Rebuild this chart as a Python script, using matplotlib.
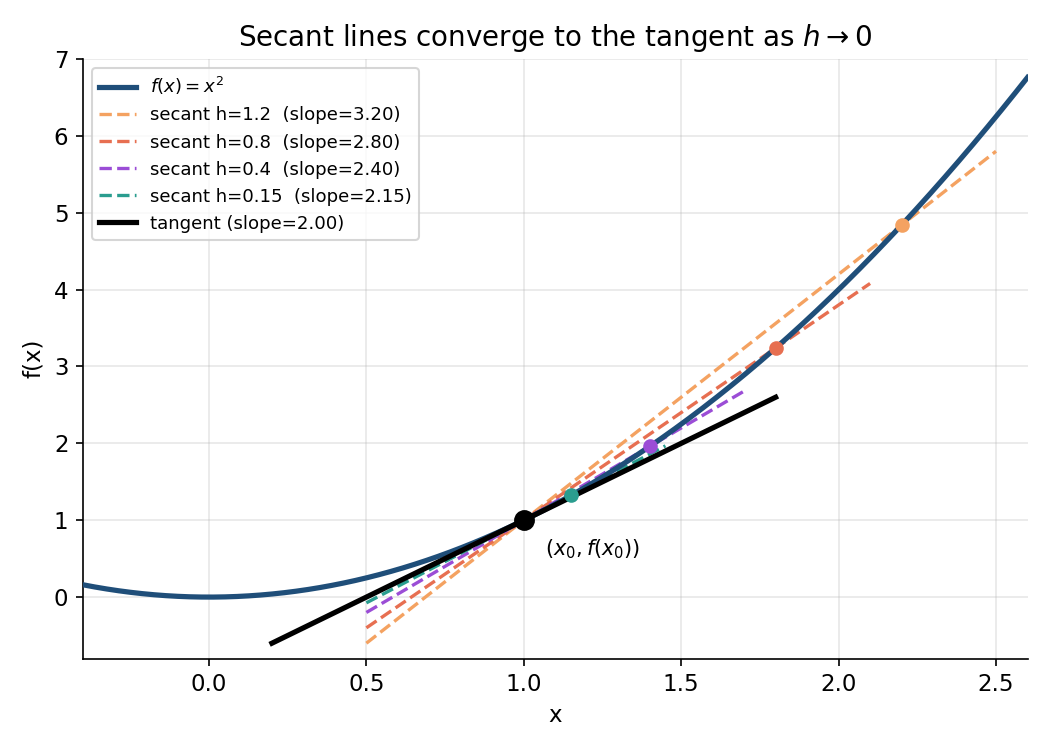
import numpy as np
import matplotlib.pyplot as plt

x0 = 1.0
steps = [1.2, 0.8, 0.4, 0.15]
secant_colors = ['#f4a261', '#e76f51', '#9b4dd6', '#2a9d8f']
curve_color = '#1f4e79'


def f(x):
    return x ** 2


fig, ax = plt.subplots(figsize=(7, 5), dpi=150)

xs = np.linspace(-0.4, 2.6, 400)
ax.plot(xs, f(xs), color=curve_color, lw=2.5, label=r'$f(x) = x^2$', zorder=3)

for h, c in zip(steps, secant_colors):
    slope = (f(x0 + h) - f(x0)) / h
    xl = np.linspace(0.5, x0 + h + 0.3, 50)
    ax.plot(xl, f(x0) + slope * (xl - x0), '--', color=c, lw=1.6,
            label='secant h={}  (slope={:.2f})'.format(h, slope), zorder=2)
    ax.plot(x0 + h, f(x0 + h), 'o', color=c, ms=6, zorder=4)

# tangent line at x0
tslope = 2 * x0
xt = np.linspace(x0 - 0.8, x0 + 0.8, 50)
ax.plot(xt, f(x0) + tslope * (xt - x0), color='black', lw=2.5,
        label='tangent (slope={:.2f})'.format(tslope), zorder=3)
ax.plot(x0, f(x0), 'o', color='black', ms=9, zorder=5)
ax.annotate(r'$(x_0, f(x_0))$', (x0, f(x0)), xytext=(10, -17),
            textcoords='offset points', fontsize=10)

ax.set_xlim(-0.4, 2.6)
ax.set_ylim(-0.8, 7)
ax.set_xlabel('x', fontsize=11)
ax.set_ylabel('f(x)', fontsize=11)
ax.tick_params(labelsize=11)
ax.set_title(r'Secant lines converge to the tangent as $h \to 0$', fontsize=13.3)
ax.grid(True, alpha=0.3)
ax.spines['top'].set_visible(False)
ax.spines['right'].set_visible(False)
ax.legend(loc='upper left', fontsize=8.7)

fig.tight_layout()
fig.savefig('out.png')
